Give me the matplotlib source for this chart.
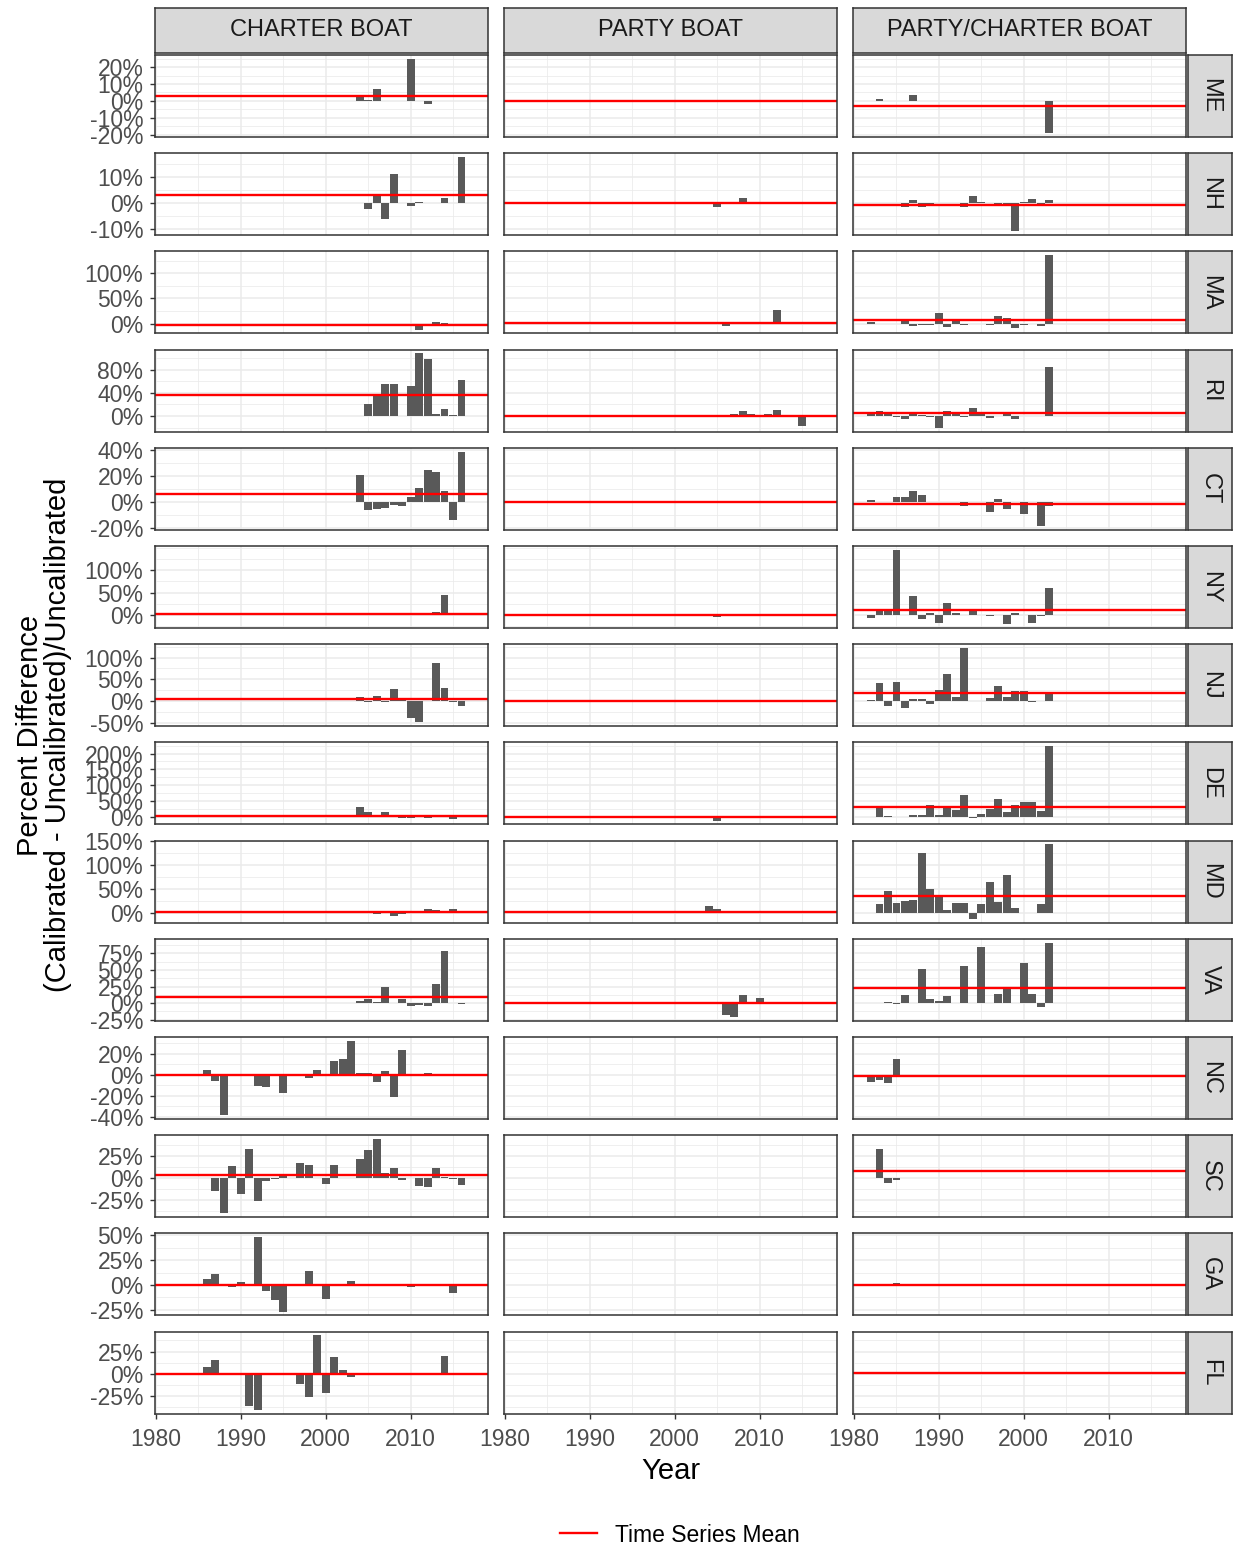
import numpy as np
import matplotlib.pyplot as plt
from matplotlib.lines import Line2D
from matplotlib.ticker import FixedLocator, MultipleLocator, FuncFormatter

plt.rcParams['font.family'] = ['Liberation Sans', 'DejaVu Sans']

states = ["ME", "NH", "MA", "RI", "CT", "NY", "NJ", "DE", "MD", "VA", "NC", "SC", "GA", "FL"]
boats = ["CHARTER BOAT", "PARTY BOAT", "PARTY/CHARTER BOAT"]

# ---- charter boat: (years, percent difference) ----
ch_me = ([2004, 2005, 2006, 2010, 2012], [2.5, 0.5, 7, 25, -2])
ch_nh = ([2005, 2006, 2007, 2008, 2010, 2011, 2014, 2016], [-2.1, 3, -6.2, 11, -1.2, 0.3, 2, 17.5])
ch_ma = ([2010, 2011, 2013, 2014], [-4, -12, 3, 1])
ch_ri = ([2005, 2006, 2007, 2008, 2010, 2011, 2012, 2013, 2014, 2015, 2016],
         [20, 36, 55, 55, 51, 108, 99, 3.4, 12, 2.3, 62])
ch_ct = ([2004, 2005, 2006, 2007, 2008, 2009, 2010, 2011, 2012, 2013, 2014, 2015, 2016],
         [21, -6.3, -5.3, -4.3, -2.3, -3, 3.8, 11, 25, 23, 8.6, -13.4, 39])
ch_ny = ([2004, 2005, 2010, 2013, 2014, 2015, 2016], [-1, -1, -1, 6, 44, 1, 1])
ch_nj = ([2004, 2005, 2006, 2007, 2008, 2009, 2010, 2011, 2012, 2013, 2014, 2015, 2016],
         [10.5, -1, 12, -1, 28, 2, -38, -49, 1, 87, 31, -1, -10.5])
ch_de = ([2004, 2005, 2007, 2009, 2010, 2012, 2014, 2015], [32, 15, 14, -2, -2, -2, -1, -8])
ch_md = ([2004, 2006, 2008, 2009, 2012, 2013, 2015], [5.4, -2, -5.4, -1, 8, 6, 9.5])
ch_va = ([2004, 2005, 2006, 2007, 2009, 2010, 2011, 2012, 2013, 2014, 2016],
         [3, 6, 2.5, 25, 6, -5, -2.5, -4.5, 29, 78, -2])
ch_nc = ([1986, 1987, 1988, 1992, 1993, 1995, 1998, 1999, 2001, 2002, 2003, 2004, 2005, 2006,
          2007, 2008, 2009, 2012, 2015],
         [4.7, -6.3, -38.5, -10.7, -12, -17.4, -3.2, 4.5, 13, 15, 32.5, 2, 1.5, -7,
          3.5, -21.5, 23.3, 1.5, 1])
ch_sc = ([1987, 1988, 1989, 1990, 1991, 1992, 1993, 1994, 1995, 1997, 1998, 2000, 2001, 2004,
          2005, 2006, 2007, 2008, 2009, 2011, 2012, 2013, 2014, 2015, 2016],
         [-14.5, -40.5, 13.8, -18, 32.5, -26.5, -3.5, -1, 1.5, 16.8, 14.5, -7.5, 15, 21,
          31.7, 44, 5, 10.8, -2, -9, -10.8, 10.8, 0.5, -1, -8.2])
ch_ga = ([1986, 1987, 1989, 1990, 1992, 1993, 1994, 1995, 1998, 2000, 2003, 2010, 2015],
         [6, 10.7, -2, 3, 48.3, -6, -15, -27, 13.7, -13.7, 4, -2, -8])
ch_fl = ([1986, 1987, 1991, 1992, 1997, 1998, 1999, 2000, 2001, 2002, 2003, 2014],
         [7.5, 16, -35.8, -40.3, -11.2, -25.7, 43.3, -21.6, 19, 4.9, -3.7, 20])
charter_mean = [2.9, 3, -2.6, 36.6, 6.6, 3, 5, 3, 2, 9.5, -0.6, 2.6, 0.3, -0.2]

# ---- party boat ----
pb_me = ([], [])
pb_nh = ([2005, 2008], [-1.6, 1.75])
pb_ma = ([2004, 2006, 2012], [-1, -4, 27])
pb_ri = ([2007, 2008, 2009, 2011, 2012, 2015], [3.5, 9, 3, 3.5, 10, -16.6])
pb_ct = ([2004, 2009], [1, 1])
pb_ny = ([2004, 2005, 2006], [-1, -5, 2])
pb_nj = ([2006], [2])
pb_de = ([2004, 2005], [3, -12])
pb_md = ([2004, 2005], [16, 9])
pb_va = ([2005, 2006, 2007, 2008, 2010, 2014], [1, -18, -21, 12, 8, 2])
party_mean = [0, 0, 1, 0.6, 0.3, -1, 0, 0, 3, 0.5, None, None, None, None]

# ---- party/charter boat ----
pc_me = ([1983, 1987, 2003], [1, 3.7, -19.2])
pc_nh = ([1986, 1987, 1988, 1989, 1993, 1994, 1995, 1997, 1998, 1999, 2000, 2001, 2002, 2003],
         [-1.4, 1.2, -1.3, -0.3, -1.3, 2.8, 0.5, -0.3, -0.3, -10.75, 0.5, 1.4, -0.3, 1.2])
pc_ma = ([1982, 1983, 1985, 1986, 1987, 1988, 1989, 1990, 1991, 1992, 1993, 1995, 1996, 1997,
          1998, 1999, 2000, 2001, 2002, 2003],
         [3, -1, -1, 5, -4, -2, -3, 22, -6, 5, -3, -1, -2, 15, 11, -8.4, -2, -1.5, -4, 136])
pc_ri = ([1982, 1983, 1984, 1985, 1986, 1987, 1988, 1989, 1990, 1991, 1992, 1993, 1994, 1995,
          1996, 1998, 1999, 2001, 2003],
         [4, 8, 4, -1, -5.7, 3, 1, -1, -20.6, 8, 4, -1, 13.7, 4, -3, 4, -5, -0.5, 84])
pc_ct = ([1982, 1983, 1985, 1986, 1987, 1988, 1989, 1990, 1991, 1992, 1993, 1994, 1995, 1996,
          1997, 1998, 2000, 2001, 2002, 2003],
         [1.5, 0.3, 3.8, 4.3, 8.6, 5.3, 0.3, 0.3, 0.3, 0.3, -3.3, 0.3, 0.3, -7.6,
          2.8, -5.3, -9.1, 0.3, -18.4, -3.3])
pc_ny = ([1982, 1983, 1984, 1985, 1986, 1987, 1988, 1989, 1990, 1991, 1992, 1994, 1996, 1998,
          1999, 2000, 2001, 2002, 2003],
         [-6, 8, 8, 146, -1, 43, -10, 4, -19, 26.5, 4, 8, -2, -21, 5, -1, -18, -3, 61])
pc_nj = ([1982, 1983, 1984, 1985, 1986, 1987, 1988, 1989, 1990, 1991, 1992, 1993, 1994, 1995,
          1996, 1997, 1998, 1999, 2000, 2001, 2003],
         [3, 41, -10.5, 44, -16, 4, 4, -7, 26, 62, 10, 122, 0.5, 0.5, 8, 35, 10, 24, 24, -1, 17])
pc_de = ([1982, 1983, 1984, 1987, 1988, 1989, 1990, 1991, 1992, 1993, 1994, 1995, 1996, 1997,
          1998, 1999, 2000, 2001, 2002, 2003],
         [1, 32, 3, 6, 6, 37, 5, 30, 22, 68, -3, 9, 24.6, 57.8, 14, 38.5, 48, 46, 19, 223.5])
pc_md = ([1982, 1983, 1984, 1985, 1986, 1987, 1988, 1989, 1990, 1991, 1992, 1993, 1994, 1995,
          1996, 1997, 1998, 1999, 2000, 2002, 2003],
         [1, 20, 46.6, 22, 25.7, 27, 125.7, 50, 36, 7.4, 21.6, 21.6, -11.5, 19, 65.5, 24, 79, 12,
          0.5, 20, 142.6])
pc_va = ([1982, 1984, 1985, 1986, 1987, 1988, 1989, 1990, 1991, 1992, 1993, 1994, 1995, 1997,
          1998, 2000, 2001, 2002, 2003],
         [0.5, 1, -2, 12, 0.5, 51, 6, 3.5, 11, 0.5, 56.5, 0.5, 84, 14, 25, 61, 14, -6, 91.5])
pc_nc = ([1982, 1983, 1984, 1985], [-6.6, -4.7, -8.2, 14.8])
pc_sc = ([1983, 1984, 1985], [32.5, -6, -2.6])
pc_ga = ([1984, 1985], [-1.5, 1.5])
pc_fl = ([], [])
pc_mean = [-3.3, -0.75, 7.8, 5, -1.3, 10, 19, 32, 35, 23, -1.3, 8.2, 0.3, 1.5]

# labelled y breaks per state row
y_breaks = [[-20, -10, 0, 10, 20], [-10, 0, 10], [0, 50, 100], [0, 40, 80], [-20, 0, 20, 40],
            [0, 50, 100], [-50, 0, 50, 100], [0, 50, 100, 150, 200], [0, 50, 100, 150],
            [-25, 0, 25, 50, 75], [-40, -20, 0, 20], [-25, 0, 25], [-25, 0, 25, 50], [-25, 0, 25]]
x_breaks = [1980, 1990, 2000, 2010]
x_minor = [1985, 1995, 2005, 2015]

charter = [ch_me, ch_nh, ch_ma, ch_ri, ch_ct, ch_ny, ch_nj, ch_de, ch_md, ch_va, ch_nc, ch_sc, ch_ga, ch_fl]
party = [pb_me, pb_nh, pb_ma, pb_ri, pb_ct, pb_ny, pb_nj, pb_de, pb_md, pb_va, None, None, None, None]
pchart = [pc_me, pc_nh, pc_ma, pc_ri, pc_ct, pc_ny, pc_nj, pc_de, pc_md, pc_va, pc_nc, pc_sc, pc_ga, pc_fl]
columns = [(charter, charter_mean), (party, party_mean), (pchart, pc_mean)]

W, H = 1235, 1546
fig = plt.figure(figsize=(W / 100, H / 100), dpi=100)

def box(x0, y0, x1, y1):
    return [x0 / W, 1 - y1 / H, (x1 - x0) / W, (y1 - y0) / H]

col_left = [155, 504, 853]
pw = 333
ph = 82
row_step = 98.2
dark = '#333333'
grid_c = '#EBEBEB'

pct = FuncFormatter(lambda v, p: f"{int(round(v))}%")

for r, st in enumerate(states):
    vals = [0.0]
    for data, means in columns:
        d = data[r]
        if d is not None:
            vals += list(d[1])
        if means[r] is not None:
            vals.append(means[r])
    lo, hi = min(vals), max(vals)
    pad = 0.05 * (hi - lo)
    brk = y_breaks[r]
    step = brk[1] - brk[0]
    top = 55 + r * row_step
    for c, (data, means) in enumerate(columns):
        ax = fig.add_axes(box(col_left[c], top, col_left[c] + pw, top + ph))
        d = data[r]
        if d is not None and len(d[0]):
            ax.bar(d[0], d[1], width=0.9, color='#595959', zorder=2)
        if means[r] is not None:
            ax.axhline(means[r], color='red', lw=1.7, zorder=3)
        ax.set_xlim(1979.9, 2019.1)
        ax.set_ylim(lo - pad, hi + pad)
        ax.xaxis.set_major_locator(FixedLocator(x_breaks))
        ax.xaxis.set_minor_locator(FixedLocator(x_minor))
        ax.yaxis.set_major_locator(FixedLocator(brk))
        ax.yaxis.set_minor_locator(MultipleLocator(step / 2))
        ax.yaxis.set_major_formatter(pct)
        ax.grid(which='major', color=grid_c, lw=1.1)
        ax.grid(which='minor', color=grid_c, lw=0.55)
        ax.set_axisbelow(True)
        ax.tick_params(which='major', length=3.8, width=1.0, color=dark,
                       labelsize=16.5, labelcolor='#4D4D4D')
        ax.tick_params(axis='y', pad=4.5)
        ax.tick_params(axis='x', pad=6.5)
        ax.tick_params(which='minor', length=0)
        if c > 0:
            ax.tick_params(axis='y', which='major', labelleft=False, length=0)
        if r < len(states) - 1:
            ax.tick_params(axis='x', which='major', labelbottom=False, length=0)
        for sp in ax.spines.values():
            sp.set_color(dark)
            sp.set_linewidth(1.1)
            sp.set_zorder(4)
    # right strip
    sax = fig.add_axes(box(1188, top, 1232, top + ph))
    sax.set_facecolor('#D9D9D9')
    sax.set_xticks([])
    sax.set_yticks([])
    for sp in sax.spines.values():
        sp.set_color(dark)
        sp.set_linewidth(1.1)
    sax.text(0.5, 0.5, st, rotation=-90, ha='center', va='center', fontsize=17,
             color='#1A1A1A', transform=sax.transAxes)

for c, b in enumerate(boats):
    sax = fig.add_axes(box(col_left[c], 8, col_left[c] + pw, 53))
    sax.set_facecolor('#D9D9D9')
    sax.set_xticks([])
    sax.set_yticks([])
    for sp in sax.spines.values():
        sp.set_color(dark)
        sp.set_linewidth(1.1)
    sax.text(0.5, 0.5, b, ha='center', va='center', fontsize=17,
             color='#1A1A1A', transform=sax.transAxes)

fig.text(671 / W, 1 - 1471 / H, "Year", ha='center', va='center', fontsize=21)
fig.text(44 / W, 1 - 735 / H, "Percent Difference\n(Calibrated - Uncalibrated)/Uncalibrated",
         ha='center', va='center', rotation=90, fontsize=21, linespacing=1.0)

fig.legend(handles=[Line2D([], [], color='red', lw=1.7)], labels=["Time Series Mean"],
           loc='center', bbox_to_anchor=(680 / W, 1 - 1535 / H), frameon=False,
           fontsize=16.5, handlelength=1.6, handletextpad=0.8)

fig.savefig("out.png", dpi=100)
